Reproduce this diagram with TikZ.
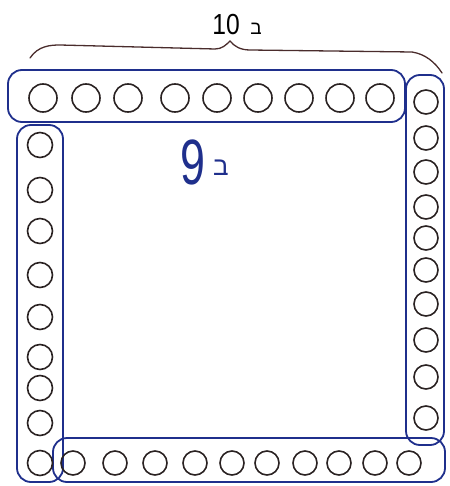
\documentclass[tikz,border=0pt]{standalone}
\usepackage{fontspec}
\setmainfont{Liberation Sans}
\newfontfamily\hebfont[Script=Hebrew]{Liberation Sans}
\TeXXeTstate=1
\definecolor{pen}{HTML}{1F2F8C}
\definecolor{ink}{HTML}{2A2222}
\definecolor{brace}{HTML}{4A2C2C}
\tikzset{
  bead/.style={circle, draw=ink, line width=1.6pt, inner sep=0pt, minimum size=#1},
  bar/.style={draw=pen, line width=1.8pt, rounded corners=14pt},
}
\begin{document}
\begin{tikzpicture}[x=1pt,y=-1pt]
\useasboundingbox (0,0) rectangle (449,486);
% bars
\draw[bar] (8,70) rectangle (405,122);
\draw[bar] (406,75) rectangle (444,445);
\draw[bar] (17,125) rectangle (63,482);
\draw[bar] (53,438) rectangle (445,482);
% top row
\foreach \x [count=\i] in {43,86,128,175,217,258,299,340,380}
  \node[bead=28pt] (t\i) at (\x,98) {};
% right column
\foreach \y [count=\i] in {102,138,172,207,238,270,304,340,377,418}
  \node[bead=24pt] (r\i) at (426,\y) {};
% left column
\foreach \y [count=\i] in {145,190,231,275,317,357,388,423,463}
  \node[bead=25pt] (l\i) at (40,\y) {};
% bottom row
\foreach \x [count=\i] in {73,115,155,195,232,267,305,339,375,409}
  \node[bead=24pt] (b\i) at (\x,463) {};
% brace
\coordinate (bl) at (30,58);
\coordinate (bt) at (230,41);
\coordinate (br) at (442,73);
\draw[brace, line width=1.3pt, line cap=round]
  (bl) .. controls (38,46) and (50,45) .. (60,45)
  -- (215,49) .. controls (222,49) and (226,45) .. (bt)
  .. controls (234,46) and (240,50) .. (250,50)
  -- (412,52) .. controls (425,54) and (435,62) .. (br);
% labels
\node[text=black, font=\fontsize{29}{29}\selectfont, xscale=0.85] (ten) at (226,25) {10};
\node[text=black, font=\fontsize{19}{19}\selectfont\hebfont] (tenu) at (256,29) {\beginR ב\endR};
\node[text=pen, font=\fontsize{64}{64}\selectfont, xscale=0.7] (nine) at (193,162) {9};
\node[text=pen, font=\fontsize{26}{26}\selectfont\hebfont] (nineu) at (221,168) {\beginR ב\endR};
\end{tikzpicture}
\end{document}
